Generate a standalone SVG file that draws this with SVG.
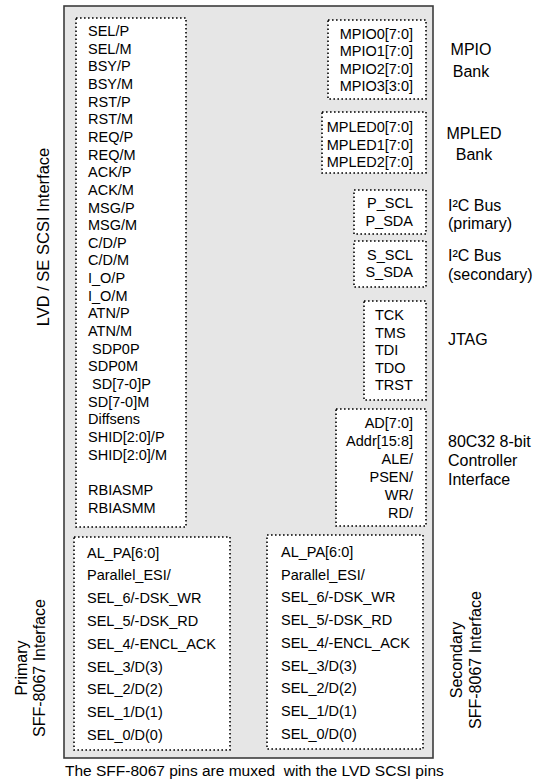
<svg xmlns="http://www.w3.org/2000/svg" width="546" height="783" viewBox="0 0 546 783">
<style>
text{font-family:"Liberation Sans",Arial,sans-serif;fill:#000}
.l{font-size:14.5px}
.lb{font-size:16px}
.r{text-anchor:end}
.m{text-anchor:middle}
.dot{fill:#fff;stroke:#000;stroke-width:1.6;stroke-dasharray:1.6 2.4}
</style>
<rect id="chip" x="64" y="6" width="369" height="752" fill="#e6e6e6" stroke="#3c3c3c" stroke-width="1.6"/>
<g id="scsi">
<rect class="dot" x="76" y="18" width="110" height="509"/>
<g class="l">
<text x="88" y="36">SEL/P</text>
<text x="88" y="53.6">SEL/M</text>
<text x="88" y="71.3">BSY/P</text>
<text x="88" y="89">BSY/M</text>
<text x="88" y="106.6">RST/P</text>
<text x="88" y="124.2">RST/M</text>
<text x="88" y="141.9">REQ/P</text>
<text x="88" y="159.5">REQ/M</text>
<text x="88" y="177.2">ACK/P</text>
<text x="88" y="194.8">ACK/M</text>
<text x="88" y="212.5">MSG/P</text>
<text x="88" y="230.1">MSG/M</text>
<text x="88" y="247.8">C/D/P</text>
<text x="88" y="265.4">C/D/M</text>
<text x="88" y="283.1">I_O/P</text>
<text x="88" y="300.7">I_O/M</text>
<text x="88" y="318.4">ATN/P</text>
<text x="88" y="336">ATN/M</text>
<text x="92" y="353.7">SDP0P</text>
<text x="88" y="371.3">SDP0M</text>
<text x="92" y="389">SD[7-0]P</text>
<text x="88" y="406.6">SD[7-0]M</text>
<text x="88" y="424.3">Diffsens</text>
<text x="88" y="441.9">SHID[2:0]/P</text>
<text x="88" y="459.6">SHID[2:0]/M</text>
<text x="88" y="494.9">RBIASMP</text>
<text x="88" y="512.5">RBIASMM</text>
</g>
</g>
<g id="mpio">
<rect class="dot" x="328" y="20" width="98" height="79"/>
<g class="l r">
<text x="413" y="38.5">MPIO0[7:0]</text>
<text x="413" y="56">MPIO1[7:0]</text>
<text x="413" y="73.5">MPIO2[7:0]</text>
<text x="413" y="91">MPIO3[3:0]</text>
</g>
</g>
<g id="mpled">
<rect class="dot" x="322" y="112" width="104" height="61"/>
<g class="l r">
<text x="413" y="132">MPLED0[7:0]</text>
<text x="413" y="149.5">MPLED1[7:0]</text>
<text x="413" y="167">MPLED2[7:0]</text>
</g>
</g>
<g id="i2cp">
<rect class="dot" x="354" y="190" width="72" height="44"/>
<g class="l r">
<text x="413" y="208">P_SCL</text>
<text x="413" y="225.5">P_SDA</text>
</g>
</g>
<g id="i2cs">
<rect class="dot" x="354" y="241" width="72" height="46"/>
<g class="l r">
<text x="413" y="259.5">S_SCL</text>
<text x="413" y="277">S_SDA</text>
</g>
</g>
<g id="jtag">
<rect class="dot" x="364" y="301" width="62" height="99"/>
<g class="l">
<text x="375" y="320">TCK</text>
<text x="375" y="337.5">TMS</text>
<text x="375" y="355">TDI</text>
<text x="375" y="372.5">TDO</text>
<text x="375" y="390">TRST</text>
</g>
</g>
<g id="ctrl">
<rect class="dot" x="336" y="409" width="90" height="117"/>
<g class="l r">
<text x="413" y="428">AD[7:0]</text>
<text x="413" y="446">Addr[15:8]</text>
<text x="413" y="464">ALE/</text>
<text x="413" y="482">PSEN/</text>
<text x="413" y="500">WR/</text>
<text x="413" y="518">RD/</text>
</g>
</g>
<g id="sff1">
<rect class="dot" x="74" y="537" width="156" height="213"/>
<g class="l">
<text x="87" y="557.5">AL_PA[6:0]</text>
<text x="87" y="580.3">Parallel_ESI/</text>
<text x="87" y="603.1">SEL_6/-DSK_WR</text>
<text x="87" y="625.9">SEL_5/-DSK_RD</text>
<text x="87" y="648.7">SEL_4/-ENCL_ACK</text>
<text x="87" y="671.5">SEL_3/D(3)</text>
<text x="87" y="694.3">SEL_2/D(2)</text>
<text x="87" y="717.1">SEL_1/D(1)</text>
<text x="87" y="739.9">SEL_0/D(0)</text>
</g>
</g>
<g id="sff2">
<rect class="dot" x="267" y="535" width="156" height="214"/>
<g class="l">
<text x="281" y="557">AL_PA[6:0]</text>
<text x="281" y="579.7">Parallel_ESI/</text>
<text x="281" y="602.4">SEL_6/-DSK_WR</text>
<text x="281" y="625.1">SEL_5/-DSK_RD</text>
<text x="281" y="647.8">SEL_4/-ENCL_ACK</text>
<text x="281" y="670.5">SEL_3/D(3)</text>
<text x="281" y="693.2">SEL_2/D(2)</text>
<text x="281" y="715.9">SEL_1/D(1)</text>
<text x="281" y="738.6">SEL_0/D(0)</text>
</g>
</g>
<g id="labels" class="lb">
<text class="m" x="471" y="55">MPIO</text>
<text class="m" x="471" y="77">Bank</text>
<text class="m" x="474" y="139">MPLED</text>
<text class="m" x="474" y="160">Bank</text>
<text x="448" y="211">I²C Bus</text>
<text x="448" y="229">(primary)</text>
<text x="448" y="261">I²C Bus</text>
<text x="448" y="280">(secondary)</text>
<text x="448" y="345">JTAG</text>
<text x="448" y="447">80C32 8-bit</text>
<text x="448" y="466">Controller</text>
<text x="448" y="485">Interface</text>
<text class="m" style="font-size:16.5px" transform="translate(49,237) rotate(-90)">LVD / SE SCSI Interface</text>
<text class="m" transform="translate(27,668) rotate(-90)">Primary</text>
<text class="m" transform="translate(45,668) rotate(-90)">SFF-8067 Interface</text>
<text class="m" transform="translate(462,660) rotate(-90)">Secondary</text>
<text class="m" transform="translate(481,660) rotate(-90)">SFF-8067 Interface</text>
<text style="font-size:15.5px" x="65" y="776" xml:space="preserve">The SFF-8067 pins are muxed  with the LVD SCSI pins</text>
</g>
</svg>
